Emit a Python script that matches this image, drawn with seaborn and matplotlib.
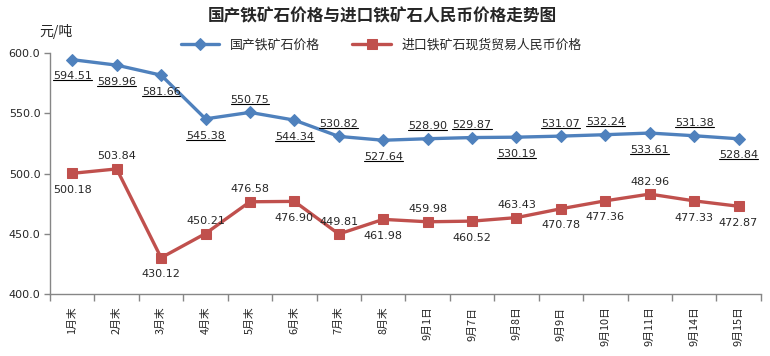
import matplotlib
matplotlib.use('Agg')
import matplotlib.pyplot as plt
from matplotlib.lines import Line2D
import pandas as pd
import seaborn as sns

# data
categories = ['1月末', '2月末', '3月末', '4月末', '5月末', '6月末', '7月末', '8月末',
              '9月1日', '9月7日', '9月8日', '9月9日', '9月10日', '9月11日', '9月14日', '9月15日']
domestic = [594.51, 589.96, 581.66, 545.38, 550.75, 544.34, 530.82, 527.64,
            528.90, 529.87, 530.19, 531.07, 532.24, 533.61, 531.38, 528.84]
imported = [500.18, 503.84, 430.12, 450.21, 476.58, 476.90, 449.81, 461.98,
            459.98, 460.52, 463.43, 470.78, 477.36, 482.96, 477.33, 472.87]
# label placement: 1 = above the point, -1 = below
domestic_pos = [-1, -1, -1, -1, 1, -1, 1, -1, 1, 1, -1, 1, 1, -1, 1, -1]
imported_pos = [-1, 1, -1, 1, 1, -1, 1, -1, 1, -1, 1, -1, -1, 1, -1, -1]

name_dom = '国产铁矿石价格'
name_imp = '进口铁矿石现货贸易人民币价格'

sns.set_style('white')
plt.rcParams['font.family'] = ['Noto Sans CJK SC', 'DejaVu Sans']

df = pd.DataFrame({'cat': categories, 'dom': domestic, 'imp': imported})
df['x'] = range(len(df))

fig = plt.figure(figsize=(7.7, 3.56), dpi=100)
ax = fig.add_axes([0.065, 0.174, 0.923, 0.677])

blue = '#4F81BD'
red = '#C0504D'
sns.lineplot(data=df, x='x', y='dom', ax=ax, color=blue, lw=2.4, marker='D',
             markersize=6, markeredgecolor=blue, label=name_dom, sort=False)
sns.lineplot(data=df, x='x', y='imp', ax=ax, color=red, lw=2.4, marker='s',
             markersize=7.5, markeredgecolor=red, label=name_imp, sort=False)

dom_labels = []
for i, (v, p) in enumerate(zip(domestic, domestic_pos)):
    t = ax.annotate('%.2f' % v, (i, v), xytext=(0, 9 if p > 0 else -12),
                    textcoords='offset points', ha='center', va='center', fontsize=8,
                    family='DejaVu Sans')
    dom_labels.append(t)
for i, (v, p) in enumerate(zip(imported, imported_pos)):
    ax.annotate('%.2f' % v, (i, v), xytext=(0, 9 if p > 0 else -12),
                textcoords='offset points', ha='center', va='center', fontsize=8,
                family='DejaVu Sans')

ax.set_xlim(-0.5, len(categories) - 0.5)
ax.set_ylim(400, 600)
ax.set_yticks([400, 450, 500, 550, 600])
ax.set_yticklabels(['%.1f' % t for t in [400, 450, 500, 550, 600]], fontsize=8,
                   family='DejaVu Sans')
ax.set_xticks(range(len(categories)))
ax.set_xticklabels(categories, rotation=90, fontsize=7.8, va='top', ha='center')
ax.set_xticks([i - 0.5 for i in range(len(categories) + 1)], minor=True)
ax.tick_params(axis='x', which='major', bottom=True, length=0, pad=9)
ax.tick_params(axis='x', which='minor', bottom=True, length=5, width=1,
               color='#868686', direction='out')
ax.tick_params(axis='y', left=True, length=4, width=1, color='#868686',
               direction='out', pad=3)
ax.set_xlabel('')
ax.set_ylabel('')
for s in ['top', 'right']:
    ax.spines[s].set_visible(False)
for s in ['left', 'bottom']:
    ax.spines[s].set_color('#868686')
    ax.spines[s].set_linewidth(1)

ax.legend(loc='center', bbox_to_anchor=(0.495, 0.874), bbox_transform=fig.transFigure,
          ncol=2, frameon=False, fontsize=9.3, handlelength=3, columnspacing=2.5)

fig.text(0.497, 0.955, '国产铁矿石价格与进口铁矿石人民币价格走势图', ha='center', va='center',
         fontsize=12, fontweight='bold')
fig.text(0.072, 0.912, '元/吨', ha='center', va='center', fontsize=10)

# underline the domestic price labels (Excel style underlined data labels)
fig.canvas.draw()
inv = fig.transFigure.inverted()
for t in dom_labels:
    bb = t.get_window_extent()
    (x0, y0), (x1, _) = inv.transform([(bb.x0, bb.y0 + 1), (bb.x1, bb.y0 + 1)])
    fig.add_artist(Line2D([x0, x1], [y0, y0], transform=fig.transFigure,
                          color='black', lw=0.8))

fig.savefig('out.png', dpi=100, facecolor='white')
